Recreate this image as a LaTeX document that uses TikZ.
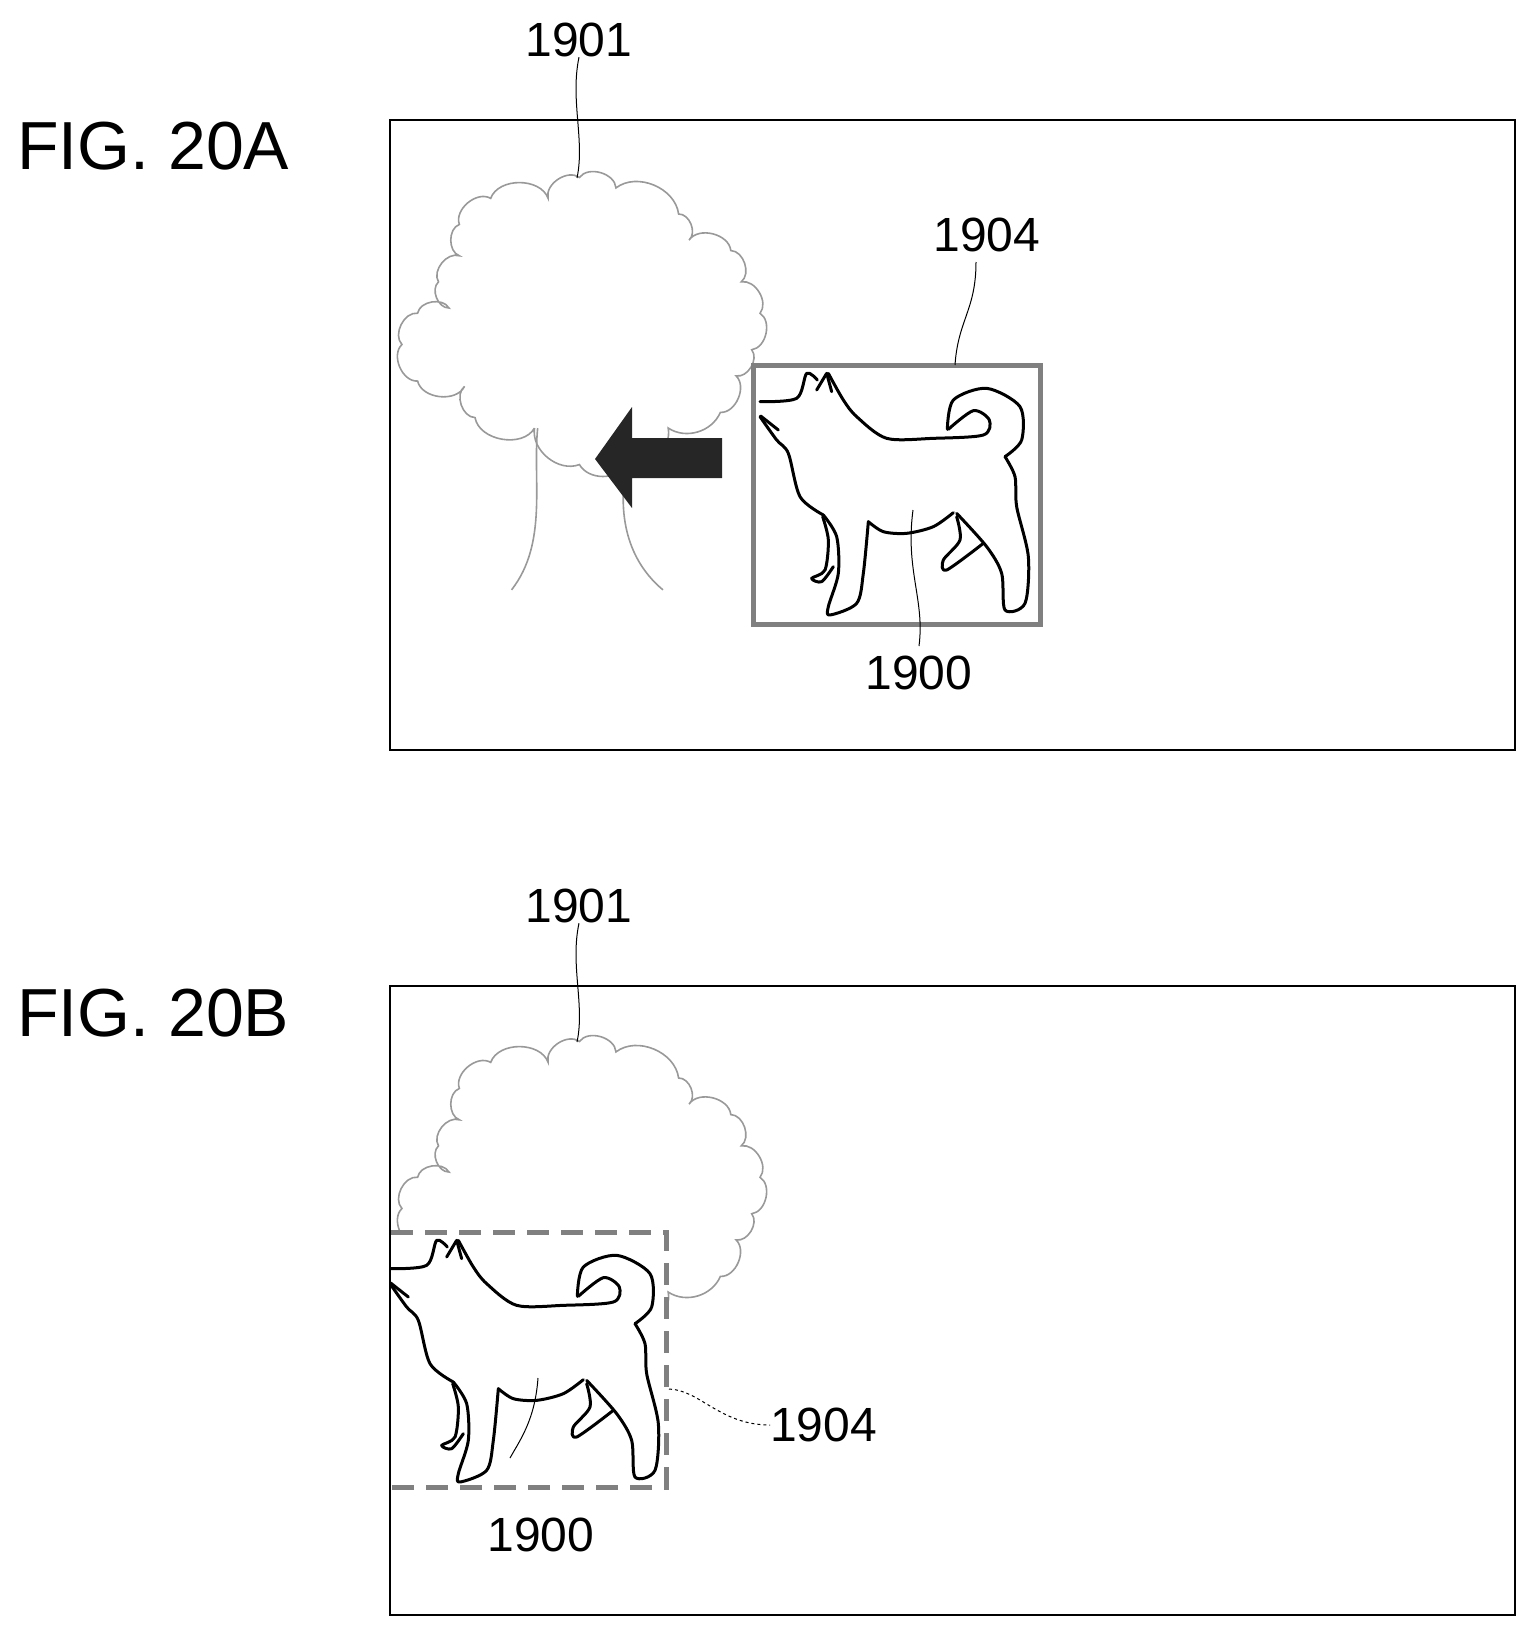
\documentclass[tikz,border=0pt]{standalone}
\usepackage{fontspec}
\setmainfont{Liberation Sans}
\begin{document}
\begin{tikzpicture}[x=1pt,y=-1pt,
  frame/.style={draw=black,line width=2.2pt},
  lbl/.style={font=\fontsize{48}{48}\selectfont,inner sep=0pt},
  fig/.style={font=\fontsize{68}{68}\selectfont,inner sep=0pt},
  leader/.style={draw=black,line width=1pt},
  treeline/.style={draw=gray!80,line width=1.6pt},
  dogline/.style={draw=black,line width=3pt,line join=round,line cap=round},
  boxline/.style={draw=gray,line width=5pt}]
\useasboundingbox (0,0) rectangle (1535,1635);
\newcommand{\mytree}{%
  \draw[treeline] (512,410) to[bend left=70] (455,400) to[bend left=70] (445,370)
   to[bend left=70] (400,365) to[bend left=70] (385,330) to[bend left=70] (400,300)
   to[bend left=70] (430,295) to[bend left=70] (420,270) to[bend left=70] (440,245)
   to[bend left=70] (440,215) to[bend left=70] (470,190) to[bend left=70] (525,190)
   to[bend left=70] (555,170) to[bend left=70] (590,180) to[bend left=60] (650,205)
   to[bend left=70] (660,230) to[bend left=70] (700,240) to[bend left=70] (710,270)
   to[bend left=70] (728,300) to[bend left=70] (720,335) to[bend left=70] (705,360)
   to[bend left=70] (690,395) to[bend left=50] (640,410) to[bend left=60] (600,445)
   to[bend left=60] (555,445) to[bend left=60] (512,410);
  \draw[treeline] (515,410) .. controls (510,460) and (525,520) .. (490,565);
  \draw[treeline] (600,445) .. controls (590,500) and (605,540) .. (635,565);
}
\newcommand{\mydog}{%
  \draw[dogline] plot[smooth] coordinates {(180,185) (290,175) (320,100) (352,120)};
  \draw[dogline] (350,150) -- (380,100) -- (395,155);
  \draw[dogline] plot[smooth] coordinates {(385,100) (430,180) (470,230) (560,295) (700,295) (850,285) (868,240) (820,212) (745,268)};
  \draw[dogline] plot[smooth] coordinates {(742,268) (760,180) (860,145) (960,200) (965,300) (915,350)};
  \draw[dogline] plot[smooth] coordinates {(915,350) (945,410) (950,500) (985,650) (975,790) (915,810) (905,700) (860,620) (770,520)};
  \draw[dogline] plot[smooth] coordinates {(760,518) (700,560) (620,580) (550,575) (505,545)};
  \draw[dogline] plot[smooth] coordinates {(505,545) (490,700) (470,790) (390,825) (385,800) (415,700) (410,590) (370,525)};
  \draw[dogline] plot[smooth] coordinates {(370,525) (300,470) (265,340) (230,300) (180,230)};
  \draw[dogline] (182,228) -- (235,270);
  \draw[dogline] plot[smooth] coordinates {(770,530) (780,600) (730,660) (740,690) (850,610)};
  \draw[dogline] plot[smooth] coordinates {(368,530) (385,600) (375,690) (335,715) (365,725) (400,680)};
}
% ---------- FIG 20A
\node[fig,anchor=west] (figA) at (17,146) {FIG. 20A};
\node[frame,draw,minimum width=1125,minimum height=630,inner sep=0pt,anchor=north west] (frA) at (389,119) {};
\begin{scope}[scale=1.044]\mytree\end{scope}
\fill[black!85] (595,459) -- (632,407) -- (632,438) -- (722,438) -- (722,478) -- (632,478) -- (632,508) -- cycle;
\draw[boxline,fill=white] (753,365) rectangle (1040,624);
\begin{scope}[shift={(700,340)},scale=1/3]\mydog\end{scope}
\node[lbl] (l1901a) at (579,40) {1901};
\coordinate (t1901a) at (577,178);
\draw[leader] (l1901a.south) .. controls (570,100) and (585,140) .. (t1901a);
\node[lbl] (l1904a) at (987,235) {1904};
\coordinate (t1904a) at (955,365);
\draw[leader] (976,262) .. controls (976,310) and (958,320) .. (t1904a);
\node[lbl] (l1900a) at (919,673) {1900};
\coordinate (t1900a) at (913,510);
\draw[leader] (t1900a) .. controls (905,570) and (925,600) .. (919,646);
% ---------- FIG 20B
\node[fig,anchor=west] (figB) at (17,1013) {FIG. 20B};
\node[frame,draw,minimum width=1125,minimum height=629,inner sep=0pt,anchor=north west] (frB) at (389,985) {};
\begin{scope}[shift={(0,864)}]\begin{scope}[scale=1.044]\mytree\end{scope}\end{scope}
\fill[white] (391,1232) rectangle (666,1487);
\begin{scope}
\clip (391,987) rectangle (1512,1612);
\begin{scope}[shift={(330,1207)},scale=1/3]\mydog\end{scope}
\end{scope}
\draw[boxline,dash pattern=on 22pt off 12pt] (391,1232) -- (666,1232) -- (666,1487) -- (391,1487);
\node[lbl] (l1901b) at (579,906) {1901};
\coordinate (t1901b) at (577,1042);
\draw[leader] (l1901b.south) .. controls (570,965) and (585,1005) .. (t1901b);
\node[lbl,anchor=west] (l1904b) at (770,1425) {1904};
\coordinate (t1904b) at (669,1389);
\draw[leader,dashed] (t1904b) .. controls (700,1390) and (720,1425) .. (l1904b.west);
\node[lbl] (l1900b) at (541,1535) {1900};
\coordinate (t1900b) at (538,1378);
\draw[leader] (t1900b) .. controls (535,1420) and (520,1440) .. (510,1458);
\end{tikzpicture}
\end{document}
